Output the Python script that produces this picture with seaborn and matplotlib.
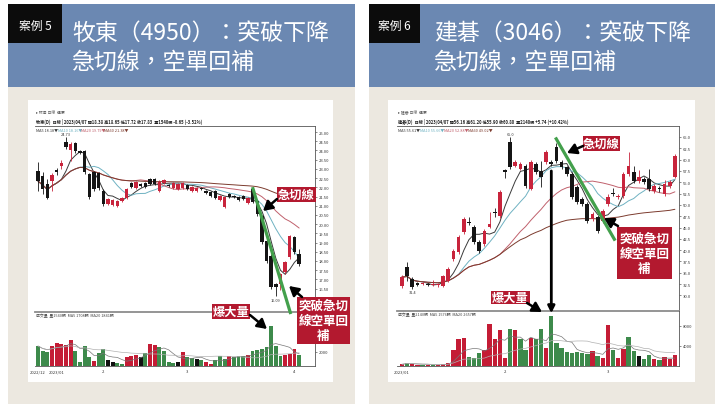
import numpy as np
import pandas as pd
import seaborn as sns
import matplotlib.pyplot as plt
from matplotlib.patches import Rectangle, ConnectionPatch

# ---- 案例5 牧東(4950) daily candles ----
muton_open = [22.88, 22.61, 22.18, 22.34, 22.94, 23.15, 24.46, 24.02, 24.40, 23.97,
              23.97, 22.72, 22.83, 22.77, 21.80, 21.09, 21.04, 20.98, 21.25, 21.42,
              22.23, 21.96, 22.18, 22.23, 22.45, 22.45, 21.80, 22.23, 22.12, 21.96,
              21.90, 21.96, 22.12, 21.80, 21.80, 21.96, 21.80, 21.74, 21.80, 21.31,
              20.93, 21.63, 21.52, 21.47, 21.52, 21.14, 21.90, 21.25, 20.44, 19.08,
              18.27, 16.75, 16.75, 17.40, 18.21, 19.30, 18.38]
muton_high = [23.37, 22.83, 22.45, 22.77, 23.04, 23.48, 24.73, 24.46, 24.46, 24.02,
              24.02, 22.77, 22.88, 22.83, 21.90, 21.42, 21.36, 21.31, 21.47, 21.96,
              22.29, 22.34, 22.23, 22.29, 22.50, 22.50, 22.39, 22.45, 22.18, 22.29,
              22.23, 22.29, 22.18, 22.07, 22.01, 22.01, 21.85, 21.80, 21.85, 21.58,
              21.52, 21.69, 21.58, 21.52, 21.58, 21.47, 22.01, 21.31, 20.50, 19.14,
              18.38, 16.80, 17.35, 18.00, 19.41, 19.35, 18.65]
muton_low = [21.80, 21.63, 21.36, 21.80, 22.67, 22.99, 24.08, 23.43, 23.86, 23.80,
             22.72, 21.36, 21.80, 21.85, 20.98, 21.04, 20.98, 20.93, 21.20, 21.36,
             21.96, 21.90, 22.01, 21.96, 22.12, 22.12, 21.74, 22.18, 22.01, 21.90,
             21.85, 21.90, 21.85, 21.74, 21.74, 21.85, 21.63, 21.47, 21.36, 21.25,
             20.88, 21.42, 21.42, 21.25, 21.31, 21.09, 21.14, 20.44, 18.92, 17.88,
             16.48, 16.09, 16.42, 17.29, 18.10, 18.38, 17.72]
muton_close = [22.34, 21.90, 21.42, 22.67, 22.83, 23.32, 24.19, 24.35, 23.97, 23.86,
               22.83, 21.47, 21.90, 21.96, 21.09, 21.36, 21.31, 21.25, 21.42, 21.90,
               22.01, 22.29, 22.07, 22.01, 22.18, 22.18, 22.29, 22.39, 22.07, 22.23,
               22.18, 22.23, 21.90, 22.01, 21.96, 21.90, 21.69, 21.52, 21.42, 21.52,
               21.47, 21.47, 21.47, 21.31, 21.36, 21.42, 21.20, 20.55, 19.03, 17.99,
               16.58, 16.58, 17.29, 17.94, 19.35, 18.48, 17.83]
muton_vol = [2800, 2100, 1960, 2800, 3220, 3080, 2940, 3640, 2100, 560,
             2800, 1260, 700, 1820, 2380, 840, 560, 420, 280, 1260,
             1400, 1540, 1260, 1820, 3080, 2940, 2660, 2100, 560, 420,
             560, 1960, 1260, 1120, 980, 840, 560, 280, 840, 1400,
             980, 1400, 1260, 1400, 1400, 1540, 2100, 2240, 2380, 2660,
             5600, 2800, 1400, 1540, 1680, 2380, 1540]
muton_vol_color = list("gggrrrrrgg" "ggrggkkggr" "rrkgrrgggg" "krggkgrrgg"
                       "grgggrgggg" "gggrrrg")
muton_ticks = ["2022/12", "2023/01", "2", "3", "4"]
muton_tick_pos = [0, 4, 14, 32, 55]

# ---- 案例6 建碁(3046) ----
aopen_open = [32.07, 36.27, 33.62, 32.70, 32.50, 32.40, 32.40, 32.20, 32.07, 33.18,
              38.04, 39.59, 44.00, 46.30, 45.11, 41.80, 41.35, 45.11, 48.50, 47.54,
              57.60, 63.90, 58.59, 57.93, 58.59, 53.51, 59.03, 57.49, 59.48, 59.50,
              62.79, 59.48, 58.37, 56.82, 53.95, 51.30, 50.19, 46.88, 47.32, 46.44,
              50.19, 52.50, 51.80, 51.96, 56.82, 57.27, 55.28, 55.72, 55.72, 53.07,
              53.60, 52.40, 54.17, 56.16]
aopen_high = [34.50, 37.38, 34.00, 32.90, 32.90, 32.80, 33.50, 32.70, 34.60, 36.20,
              40.30, 43.30, 47.30, 47.40, 45.60, 42.20, 44.70, 48.40, 49.40, 53.30,
              57.90, 65.00, 59.90, 59.50, 59.00, 59.90, 59.40, 59.70, 62.10, 60.00,
              63.70, 59.90, 58.70, 57.20, 54.40, 51.70, 50.60, 48.40, 47.70, 49.10,
              52.30, 53.80, 52.40, 57.30, 61.69, 58.60, 57.60, 56.20, 58.00, 54.60,
              54.10, 55.60, 55.50, 61.20]
aopen_low = [31.60, 33.18, 31.40, 32.10, 32.20, 32.00, 32.00, 31.90, 31.80, 32.90,
             37.60, 39.20, 43.60, 45.50, 41.30, 39.40, 41.00, 44.80, 47.40, 47.10,
             55.90, 58.00, 58.30, 57.60, 53.80, 53.20, 56.90, 53.95, 59.10, 58.60,
             59.30, 58.00, 56.40, 51.30, 50.20, 49.80, 46.00, 46.50, 43.80, 46.00,
             49.80, 51.90, 51.40, 51.50, 56.40, 54.90, 54.90, 54.60, 53.10, 52.60,
             52.90, 52.00, 53.80, 55.90]
aopen_close = [34.06, 34.28, 31.85, 32.30, 32.60, 32.30, 32.50, 32.40, 34.28, 35.83,
               39.81, 42.90, 46.88, 46.10, 41.80, 39.81, 44.23, 45.77, 48.30, 52.85,
               57.30, 58.37, 59.48, 59.03, 54.17, 59.48, 57.27, 56.16, 61.69, 59.10,
               59.70, 58.37, 56.82, 51.74, 50.64, 50.19, 46.44, 47.98, 44.23, 48.65,
               51.74, 52.30, 52.00, 56.82, 58.59, 55.28, 56.16, 55.06, 53.51, 54.17,
               53.40, 54.61, 55.06, 60.80]
aopen_vol = [340, 660, 400, 260, 200, 260, 200, 260, 340, 660,
             3140, 5340, 5660, 1860, 1660, 2540, 3140, 8460, 5340, 7200,
             1660, 7460, 7200, 5340, 3140, 5600, 5460, 7340, 3660, 10000,
             4660, 3660, 2800, 2660, 2800, 2660, 2340, 3000, 2000, 1660,
             8140, 3200, 1660, 3460, 5860, 3000, 2000, 1340, 2140, 1340,
             1140, 1800, 1460, 2140]
aopen_vol_color = list("rgrrgrgrrr" "rrrgggrrrr" "rgrggrggrg" "gggggggrgr"
                       "rgrrggkggr" "grrr")
aopen_ticks = ["2023/01", "2", "3"]
aopen_tick_pos = [0, 20, 40]

W, H = 720, 410
BLUE = "#6b88b2"
BEIGE = "#ece8e0"
CALLOUT = "#b3192f"
GREEN = "#43a04c"
RED = "#c8243c"
BLACK = "#151515"
VCOL = {"r": "#c41c35", "g": "#3d8a4b", "k": "#111111"}
MA_COLORS = ["#3a3a3a", "#6fb2c2", "#c0606c", "#7c3b2e"]

sns.set_theme(style="white")
plt.rcParams["font.family"] = ["Noto Sans CJK TC", "DejaVu Sans"]

fig = plt.figure(figsize=(7.2, 4.1), dpi=100)
fig.patch.set_facecolor("white")

bg = fig.add_axes([0, 0, 1, 1], zorder=0)
bg.set_xlim(0, W)
bg.set_ylim(H, 0)
bg.axis("off")

ov = fig.add_axes([0, 0, 1, 1], zorder=5)
ov.set_xlim(0, W)
ov.set_ylim(H, 0)
ov.axis("off")
ov.patch.set_alpha(0)


def px_axes(x0, y0, x1, y1):
    ax = fig.add_axes([x0 / W, 1 - y1 / H, (x1 - x0) / W, (y1 - y0) / H], zorder=2)
    ax.patch.set_visible(False)
    return ax


def panel(x0, x1, box_w, case, title1, title2, tx, wx0, wx1):
    bg.add_patch(Rectangle((x0, 5), x1 - x0, 83, color=BLUE, lw=0))
    bg.add_patch(Rectangle((x0, 88), x1 - x0, 317, color=BEIGE, lw=0))
    bg.add_patch(Rectangle((x0, 5), box_w, 39, color="#0c0c0c", lw=0))
    bg.add_patch(Rectangle((wx0, 101), wx1 - wx0, 282, color="white", lw=0))
    bg.text(x0 + box_w / 2, 26, case, color="white", fontsize=8.5,
            ha="center", va="center")
    bg.text(tx, 33, title1, color="white", fontsize=16.5, fontweight="medium",
            ha="left", va="center")
    bg.text(tx, 62, title2, color="white", fontsize=16.5, fontweight="medium",
            ha="left", va="center")


def draw_stock(ax_p, ax_v, df, vcolors, min_body, xlim, ylim, yticks, yfmt,
               vtop, vticks, xpos, xlabels):
    x = df.index.to_numpy()
    up = df["close"] >= df["open"]
    col = np.where(up, RED, BLACK)
    ax_p.vlines(x, df["low"], df["high"], colors=col, lw=0.6, zorder=3)
    body = (df["close"] - df["open"]).abs().clip(lower=min_body)
    ax_p.bar(x, body, bottom=np.minimum(df["open"], df["close"]), width=0.72,
             color=col, lw=0, zorder=4)
    for n, c in zip([5, 10, 20, 60], MA_COLORS):
        ma = df["close"].rolling(n, min_periods=1).mean().to_numpy()
        sns.lineplot(x=x, y=ma, ax=ax_p, color=c, lw=0.7, zorder=2)

    ax_v.bar(x, df["vol"], width=0.84, color=[VCOL[k] for k in vcolors], lw=0)
    for n, c in zip([5, 20], ["#777777", "#b0b0b0"]):
        vma = df["vol"].rolling(n, min_periods=1).mean().to_numpy()
        sns.lineplot(x=x, y=vma, ax=ax_v, color=c, lw=0.5, zorder=3)

    i_hi = int(df["high"].idxmax())
    i_lo = int(df["low"].idxmin())
    ax_p.annotate(yfmt % df["high"][i_hi], (i_hi, df["high"][i_hi]), xytext=(0, 1),
                  textcoords="offset points", ha="center", va="bottom",
                  fontsize=2.8, color="#333333")
    ax_p.annotate(yfmt % df["low"][i_lo], (i_lo, df["low"][i_lo]), xytext=(0, -1),
                  textcoords="offset points", ha="center", va="top",
                  fontsize=2.8, color="#333333")

    for ax in (ax_p, ax_v):
        ax.set_xlim(*xlim)
        ax.set_xlabel("")
        ax.set_ylabel("")
        ax.yaxis.tick_right()
        ax.tick_params(axis="both", labelsize=3, length=1.5, width=0.4, pad=1,
                       colors="#333333")
        ax.spines["left"].set_visible(False)
        for s in ("top", "right", "bottom"):
            ax.spines[s].set_linewidth(0.6)
            ax.spines[s].set_color("#555555")
    ax_p.set_ylim(*ylim)
    ax_p.set_yticks(yticks)
    ax_p.set_yticklabels([yfmt % t for t in yticks])
    ax_p.set_xticks([])
    ax_p.spines["bottom"].set_linewidth(1.3)
    ax_p.spines["bottom"].set_color("#8c8c8c")
    ax_v.set_ylim(0, vtop)
    ax_v.set_yticks(vticks)
    ax_v.set_yticklabels([str(v) for v in vticks])
    ax_v.spines["top"].set_visible(False)
    ax_v.set_xticks(xpos)
    ax_v.set_xticklabels(xlabels)


def header(x0, name, df, y_ma, ma_x):
    last = df.iloc[-1]
    prev = df["close"].iloc[-2]
    chg = last["close"] - prev
    ov.text(x0, 113, f"▸ {name} 日線  還原", fontsize=2.8, color="#555555",
            va="center")
    ov.text(x0, 121.5,
            f"{name}(D)  日線 | 2023/04/07 開{last['open']:.2f} 高{last['high']:.2f} "
            f"低{last['low']:.2f} 收{last['close']:.2f}  量{int(last['vol'])}張 "
            f"{chg:+.2f} ({chg / prev * 100:+.2f}%)",
            fontsize=3, color="#222222", fontweight="bold", va="center")
    for n, c, xx in zip([5, 10, 20, 60], MA_COLORS, ma_x):
        v = df["close"].rolling(n, min_periods=1).mean().iloc[-1]
        ov.text(xx, y_ma, f"MA{n} {v:.2f}▼", fontsize=2.8, color=c, va="center")


def callout(x0, y0, x1, y1, text, fs=8.8):
    ov.add_patch(Rectangle((x0, y0), x1 - x0, y1 - y0, color=CALLOUT, lw=0, zorder=6))
    ov.text((x0 + x1) / 2, (y0 + y1) / 2, text, color="white", fontsize=fs,
            fontweight="bold", ha="center", va="center", linespacing=1.2, zorder=7)


def arrow(tail, tip):
    ov.annotate("", xy=tip, xytext=tail, zorder=8,
                arrowprops=dict(arrowstyle="-|>,head_length=0.7,head_width=0.4",
                                color="black", lw=1.8, shrinkA=0, shrinkB=0,
                                mutation_scale=8))


muton = pd.DataFrame({"open": muton_open, "high": muton_high, "low": muton_low,
                      "close": muton_close, "vol": muton_vol})
aopen = pd.DataFrame({"open": aopen_open, "high": aopen_high, "low": aopen_low,
                      "close": aopen_close, "vol": aopen_vol})

panel(8, 355, 54, "案例 5", "牧東（4950）：突破下降", "急切線，空單回補", 72, 28, 333)
panel(369, 715, 51, "案例 6", "建碁（3046）：突破下降", "急切線，空單回補", 434, 388, 695)

# left chart
axp1 = px_axes(35, 127, 315, 313)
axv1 = px_axes(35, 313, 315, 367)
draw_stock(axp1, axv1, muton, muton_vol_color, 0.05, (-0.65, 59.4), (15.23, 25.33),
           np.arange(16.5, 25.01, 0.5), "%.2f", 7560, [2000],
           muton_tick_pos, muton_ticks)
header(36, "牧東", muton, 131, [36, 58, 81, 104])
ov.text(36, 316.5, f"成交量  量{muton_vol[-1]}張  MA5 {np.mean(muton_vol[-5:]):.0f}張  "
        f"MA20 {np.mean(muton_vol[-20:]):.0f}張", fontsize=2.8, color="#444444",
        va="center")
axp1.plot([46, 54.2], [22.01, 15.12], color=GREEN, lw=2.3, clip_on=False,
          solid_capstyle="butt", zorder=6)

# right chart
axp2 = px_axes(397, 127, 679, 312)
axv2 = px_axes(397, 312, 679, 367)
draw_stock(axp2, axv2, aopen, aopen_vol_color, 0.22, (-0.97, 53.8), (26.55, 67.43),
           np.arange(30, 65.01, 2.5), "%.1f", 11000, [4000, 8000],
           aopen_tick_pos, aopen_ticks)
header(398, "建碁", aopen, 131, [398, 420, 444, 468])
ov.text(398, 315.5, f"成交量  量{aopen_vol[-1]}張  MA5 {np.mean(aopen_vol[-5:]):.0f}張  "
        f"MA20 {np.mean(aopen_vol[-20:]):.0f}張", fontsize=2.8, color="#444444",
        va="center")
axp2.plot([29.8, 41.4], [64.9, 42.1], color=GREEN, lw=2.3, clip_on=False,
          solid_capstyle="butt", zorder=6)
spike = int(np.argmax(aopen_vol))
con = ConnectionPatch(xyA=(spike, 57.5), coordsA=axp2.transData,
                      xyB=(spike, aopen_vol[spike]), coordsB=axv2.transData,
                      arrowstyle="-|>", mutation_scale=10, lw=2.0, color="black",
                      shrinkA=0, shrinkB=2, zorder=9)
fig.add_artist(con)

# callouts
callout(277, 188, 316, 203, "急切線")
arrow((277, 200), (263, 212))
callout(297, 298, 350, 345, "突破急切\n線空單回\n補", 9)
arrow((302, 298), (289, 287))
callout(212, 305, 250, 320, "爆大量")
arrow((250, 316), (267, 330))

callout(583, 137, 620, 152, "急切線")
arrow((583, 147), (567, 154))
callout(617, 228, 672, 280, "突破急切\n線空單回\n補", 9)
arrow((618, 227), (604, 219))
callout(491, 292, 530, 305, "爆大量")
arrow((527, 304), (542, 313))

fig.savefig("out.png", dpi=100)
